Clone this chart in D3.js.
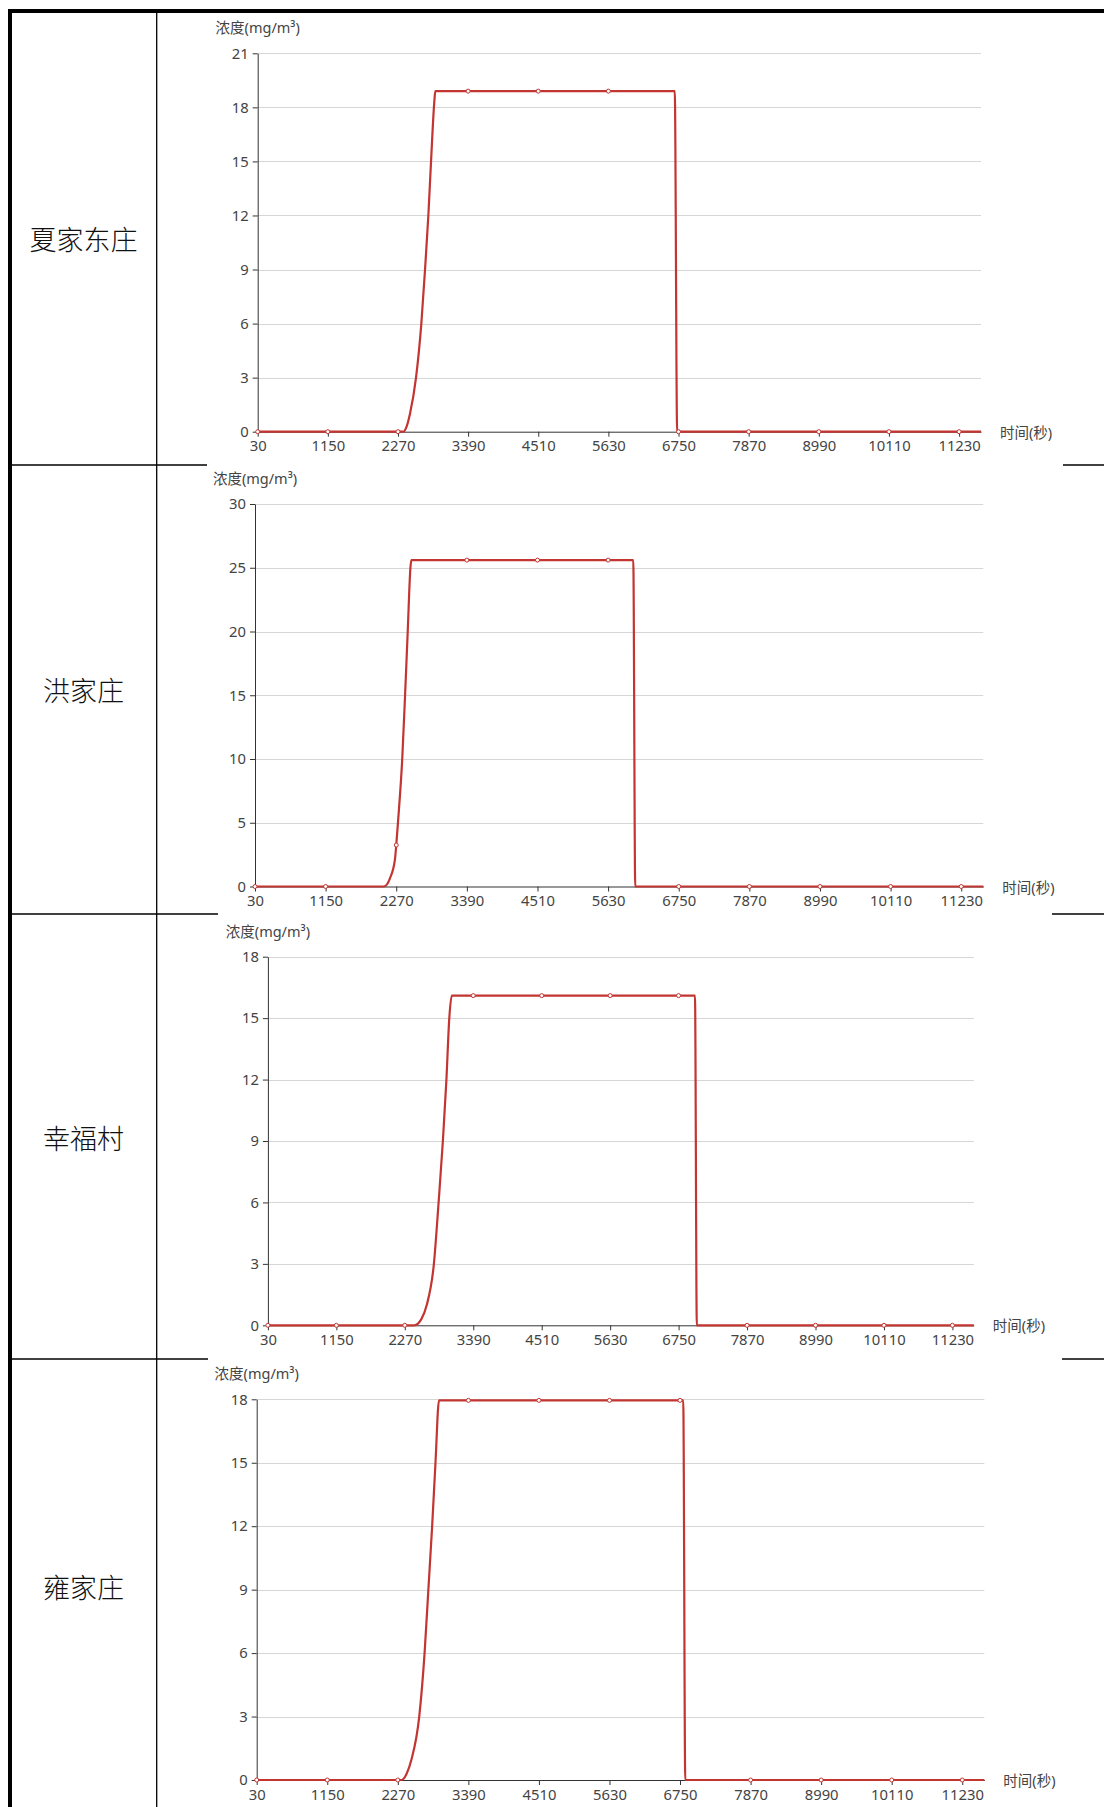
<!DOCTYPE html>
<html><head><meta charset="utf-8">
<script src="https://cdn.jsdelivr.net/npm/d3@7"></script>
<style>
body{margin:0;background:#fff}
svg{display:block}
text{font-family:"Noto Sans","Noto Sans CJK SC",sans-serif}
</style>
</head><body><svg id="c" width="1104" height="1807"></svg>
<script>
// ---------------- data ----------------
const stations = ["夏家东庄", "洪家庄", "幸福村", "雍家庄"];
const yTitle = "浓度(mg/m³)";
const xTitle = "时间(秒)";
const xTickLabels = [30, 1150, 2270, 3390, 4510, 5630, 6750, 7870, 8990, 10110, 11230];
const timeRange = [30, 11580];

const yTicks1 = [0, 3, 6, 9, 12, 15, 18, 21];
const yTicks2 = [0, 5, 10, 15, 20, 25, 30];
const yTicks3 = [0, 3, 6, 9, 12, 15, 18];
const yTicks4 = [0, 3, 6, 9, 12, 15, 18];

const times1  = [30, 1150, 2270, 2355, 2409, 2462, 2558, 2643, 2702, 2755, 2798, 2850, 2866, 3390, 4510, 5630, 6690, 6728, 6750, 7870, 8990, 10110, 11230, 11580];
const values1 = [0, 0, 0, 0, 0.3, 1, 3, 6, 9, 12, 15, 18.3, 18.9, 18.9, 18.9, 18.9, 18.9, 0, 0, 0, 0, 0, 0, 0];

const times2  = [30, 1150, 2074, 2170, 2249, 2270, 2300, 2365, 2410, 2452, 2495, 2509, 3390, 4510, 5630, 6029, 6060, 6750, 7870, 8990, 10110, 11230, 11580];
const values2 = [0, 0, 0, 0.64, 2.1, 3.25, 5.2, 10, 15, 20, 25, 25.6, 25.6, 25.6, 25.6, 25.6, 0, 0, 0, 0, 0, 0, 0];

const times3  = [30, 1150, 2270, 2425, 2541, 2630, 2746, 2823, 2893, 2951, 2998, 3039, 3390, 4510, 5630, 6750, 7018, 7048, 7870, 8990, 10110, 11230, 11580];
const values3 = [0, 0, 0, 0, 0.3, 1, 3, 6, 9, 12, 15, 16.1, 16.1, 16.1, 16.1, 16.1, 16.1, 0, 0, 0, 0, 0, 0];

const times4  = [30, 1150, 2270, 2332, 2410, 2490, 2610, 2695, 2755, 2815, 2868, 2924, 3390, 4510, 5630, 6750, 6801, 6833, 7870, 8990, 10110, 11230, 11580];
const values4 = [0, 0, 0, 0, 0.3, 1, 3, 6, 9, 12, 15, 17.95, 17.95, 17.95, 17.95, 17.95, 17.95, 0, 0, 0, 0, 0, 0];

const seriesTimes = [times1, times2, times3, times4];
const seriesValues = [values1, values2, values3, values4];
const seriesTicks = [yTicks1, yTicks2, yTicks3, yTicks4];

// ---------------- layout ----------------
const layout = [
  {x0: 257.7, x1: 981,   yTop: 53.3,  yBot: 431.7, labelY: 238.5},
  {x0: 255,   x1: 983.3, yTop: 504,   yBot: 886.5, labelY: 689},
  {x0: 267.9, x1: 973.8, yTop: 956.7, yBot: 1325.3, labelY: 1137},
  {x0: 256.7, x1: 984.3, yTop: 1399.3, yBot: 1780, labelY: 1586}
];
const RED = "#c23531";
const TXT = "#444";
const FONT = '"Noto Sans","Noto Sans CJK SC",sans-serif';
const svg = d3.select("#c");

// ---------------- table frame ----------------
const frame = svg.append("g");
frame.append("rect").attr("x", 8).attr("y", 9).attr("width", 1096).attr("height", 4).attr("fill", "#000");
frame.append("rect").attr("x", 8).attr("y", 9).attr("width", 4).attr("height", 1798).attr("fill", "#000");
frame.append("line").attr("x1", 156.7).attr("x2", 156.7).attr("y1", 13).attr("y2", 1807)
  .attr("stroke", "#000").attr("stroke-width", 1.3);
const rowLines = [
  {y: 465, a: 207, b: 1063},
  {y: 914, a: 218, b: 1052},
  {y: 1359, a: 208, b: 1062}
];
rowLines.forEach(r => {
  frame.append("line").attr("x1", 12).attr("x2", r.a).attr("y1", r.y).attr("y2", r.y)
    .attr("stroke", "#000").attr("stroke-width", 1.3);
  frame.append("line").attr("x1", r.b).attr("x2", 1104).attr("y1", r.y).attr("y2", r.y)
    .attr("stroke", "#000").attr("stroke-width", 1.3);
});

// ---------------- charts ----------------
stations.forEach((name, i) => {
  const L = layout[i];
  const ticks = seriesTicks[i];
  const data = seriesTimes[i].map((t, k) => ({t, v: seriesValues[i][k]}));

  // row label
  svg.append("text").attr("x", 83.5).attr("y", L.labelY)
    .attr("text-anchor", "middle").attr("dominant-baseline", "central")
    .style("font-family", '"Noto Sans CJK SC",sans-serif')
    .attr("font-size", 27).attr("font-weight", 300).attr("fill", "#111").text(name);

  const x = d3.scaleLinear().domain(timeRange).range([L.x0, L.x1]);
  const y = d3.scaleLinear().domain([0, d3.max(ticks)]).range([L.yBot, L.yTop]);
  const g = svg.append("g");

  // gridlines
  g.append("g").selectAll("line").data(ticks.filter(d => d > 0)).join("line")
    .attr("x1", L.x0).attr("x2", L.x1)
    .attr("y1", d => Math.round(y(d)) + 0.5).attr("y2", d => Math.round(y(d)) + 0.5)
    .attr("stroke", "#d6d6d6").attr("stroke-width", 1);

  // y axis
  const ya = g.append("g").attr("transform", `translate(${L.x0},0)`)
    .call(d3.axisLeft(y).tickValues(ticks).tickSize(5).tickSizeOuter(0).tickPadding(4));
  ya.select(".domain").attr("stroke", "#333");
  ya.selectAll(".tick line").attr("stroke", "#333");
  ya.selectAll(".tick text").attr("fill", TXT).attr("font-size", 14.8).style("font-family", FONT);

  // x axis
  const xa = g.append("g").attr("transform", `translate(0,${L.yBot})`)
    .call(d3.axisBottom(x).tickValues(xTickLabels).tickFormat(d3.format("d"))
      .tickSize(5).tickSizeOuter(0).tickPadding(4));
  xa.select(".domain").attr("stroke", "#333");
  xa.selectAll(".tick line").attr("stroke", "#333");
  xa.selectAll(".tick text").attr("fill", TXT).attr("font-size", 14.8).style("font-family", FONT);

  // axis names
  g.append("text").attr("x", L.x0).attr("y", L.yTop - 26)
    .attr("text-anchor", "middle").attr("dominant-baseline", "central")
    .attr("font-size", 14.5).attr("fill", TXT).style("font-family", FONT).text(yTitle);
  g.append("text").attr("x", L.x1 + 19).attr("y", L.yBot)
    .attr("text-anchor", "start").attr("dominant-baseline", "central")
    .attr("font-size", 14.5).attr("fill", TXT).style("font-family", FONT).text(xTitle);

  // line
  const line = d3.line().x(d => x(d.t)).y(d => y(d.v)).curve(d3.curveMonotoneX);
  g.append("path").datum(data).attr("d", line)
    .attr("fill", "none").attr("stroke", RED).attr("stroke-width", 2.2)
    .attr("stroke-linejoin", "round");

  // symbols at labelled times
  g.append("g").selectAll("circle")
    .data(data.filter(d => xTickLabels.includes(d.t))).join("circle")
    .attr("cx", d => x(d.t)).attr("cy", d => y(d.v)).attr("r", 2)
    .attr("fill", "#fff").attr("stroke", RED).attr("stroke-width", 1);
});
</script>
</body></html>
